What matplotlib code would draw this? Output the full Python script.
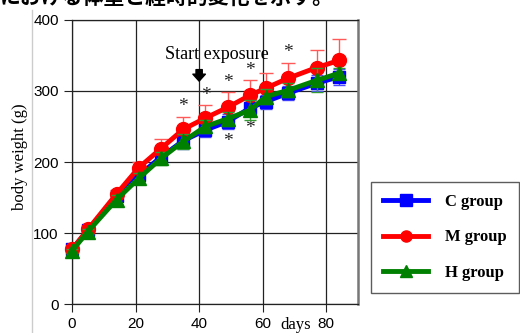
import numpy as np
import matplotlib
matplotlib.use("Agg")
import matplotlib.pyplot as plt
from matplotlib.lines import Line2D

days = [0, 5, 14, 21, 28, 35, 42, 49, 56, 61, 68, 77, 84]
c_group = [77, 104, 152, 181, 207, 230, 245, 257, 276, 285, 297, 311, 320]
m_group = [77, 105, 155, 192, 219, 246, 262, 277, 294, 304, 318, 333, 343]
h_group = [75, 102, 147, 177, 205, 229, 250, 261, 273, 292, 301, 315, 325]
c_err = [3, 4, 6, 8, 9, 11, 10, 10, 11, 10, 10, 11, 11]
m_err = [3, 4, 6, 8, 14, 18, 18, 21, 21, 21, 22, 25, 30]
h_err = [3, 4, 6, 8, 9, 10, 9, 10, 14, 11, 10, 17, 8]

# significance marks: above M group, below C group
star_up_days = [35, 42, 49, 56, 68]
star_down_days = [49, 56]

serif = ["Liberation Serif", "DejaVu Serif"]
sans = ["Liberation Sans", "DejaVu Sans"]

fig = plt.figure(figsize=(5.2, 3.33), dpi=100)
ax = fig.add_axes([0.1385, 0.087, 0.55, 0.853])

ax.errorbar(days, c_group, yerr=c_err, color=(0, 0, 1), lw=3.5, marker="s", ms=9,
            elinewidth=1, ecolor=(0.3, 0.3, 1), capsize=4, clip_on=False, zorder=3)
ax.errorbar(days, m_group, yerr=[np.zeros(len(m_err)), m_err], color=(1, 0, 0), lw=3.5,
            marker="o", ms=10, elinewidth=1, ecolor=(1, 0.35, 0.35), capsize=5,
            clip_on=False, zorder=4)
ax.errorbar(days, h_group, yerr=h_err, color=(0, 0.5, 0), lw=3.5, marker="^", ms=10,
            elinewidth=1, ecolor=(0.2, 0.6, 0.2), capsize=4, clip_on=False, zorder=5)

for d in star_up_days:
    i = days.index(d)
    ax.text(d, m_group[i] + m_err[i] + 2, "*", ha="center", va="bottom",
            fontsize=14, family=serif, color="#222222")
for d in star_down_days:
    i = days.index(d)
    ax.text(d, c_group[i] - c_err[i] - 6, "*", ha="center", va="top",
            fontsize=14, family=serif, color="#222222")

ax.text(45.5, 340, "Start exposure", ha="center", va="bottom", fontsize=13, family=serif)
ax.annotate("", xy=(40, 310), xytext=(40, 334),
            arrowprops=dict(arrowstyle="simple,head_width=0.9,head_length=0.5,tail_width=0.45",
                            color="black"))

ax.set_xlim(0, 90)
ax.set_ylim(0, 400)
ax.set_xticks([0, 20, 40, 60, 80])
ax.set_yticks([0, 100, 200, 300, 400])
ax.grid(True, color="#222222", lw=0.9)
ax.set_axisbelow(True)
ax.tick_params(axis="both", labelsize=11, length=6, width=0.8, color="#222222")
ax.tick_params(axis="x", pad=3)
for lab in ax.get_xticklabels() + ax.get_yticklabels():
    lab.set_family(sans)
for s in ["left", "bottom", "top"]:
    ax.spines[s].set_color("#222222")
    ax.spines[s].set_linewidth(0.9)
ax.spines["right"].set_color("#777777")
ax.spines["right"].set_linewidth(1.8)

fig.text(20 / 520, 1 - 157 / 333, "body weight (g)", family=serif, fontsize=12,
         rotation=90, ha="center", va="center")
fig.text(296 / 520, 1 - 325 / 333, "days", family=serif, fontsize=12, ha="center", va="center")

handles = [
    Line2D([], [], color=(0, 0, 1), lw=3.5, marker="s", ms=8),
    Line2D([], [], color=(1, 0, 0), lw=3.5, marker="o", ms=8),
    Line2D([], [], color=(0, 0.5, 0), lw=3.5, marker="^", ms=8),
]
leg = fig.legend(handles, ["C group", "M group", "H group"], loc="center",
                 bbox_to_anchor=(445 / 520, 1 - 237.5 / 333), frameon=True, fancybox=False,
                 edgecolor="#333333", handlelength=2.7, handletextpad=1.0,
                 labelspacing=1.15, borderpad=0.75, borderaxespad=0,
                 prop={"family": serif, "weight": "bold", "size": 12})
leg.get_frame().set_linewidth(1.0)

# cropped caption at the top of the image
fig.text(0.0, 1 - 5 / 333, "における体重と経時的変化を示す。", family=["Noto Sans CJK JP", "DejaVu Sans"],
         fontsize=15, ha="left", va="baseline", weight="bold")
fig.add_artist(Line2D([32 / 520, 32 / 520], [0, 0.97], color="#cccccc", lw=1))

fig.savefig("out.png", dpi=100)
